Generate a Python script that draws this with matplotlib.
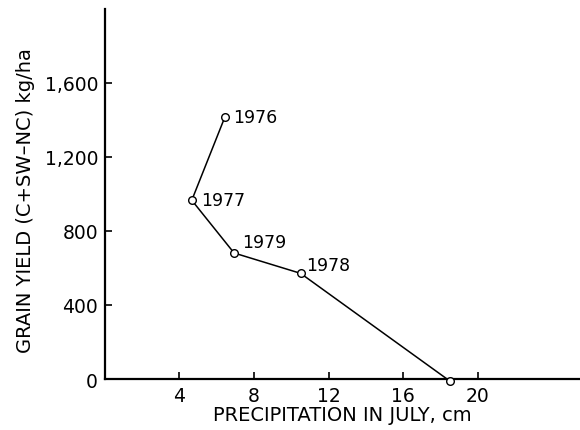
import matplotlib
matplotlib.use("Agg")
import matplotlib.pyplot as plt

# ------------------------- Data ------------------------- #
years = ["1976", "1977", "1979", "1978", "1975"]
precip_july = [6.43, 4.66, 6.93, 10.5, 18.5]
grain_yield = [1414, 966, 681, 571, -10]

x_ticks = [4, 8, 12, 16, 20]
y_ticks = [0, 400, 800, 1200, 1600]
y_tick_labels = ["0", "400", "800", "1,200", "1,600"]

# label offsets in points (dx, dy, ha)
label_offsets = [(6, 0, "left"), (7, 0, "left"), (6, 8, "left"), (4, 6, "left"), (6, 13, "center")]

plt.rcParams['font.family'] = ['DejaVu Sans']

fig = plt.figure(figsize=(5.8, 4.31), dpi=100)
ax = fig.add_axes([0.181, 0.1183, 0.819, 0.8587])

ax.plot(precip_july, grain_yield, color="black", lw=1.1, marker="o", ms=5.5,
        mfc="white", mec="black", mew=1.0, clip_on=False, zorder=3)

for yr, x, y, (dx, dy, ha) in zip(years, precip_july, grain_yield, label_offsets):
    ax.annotate(yr, (x, y), xytext=(dx, dy), textcoords="offset points",
                ha=ha, va="center", fontsize=12.5)

ax.set_xlim(0, 25.5)
ax.set_ylim(0, 2000)
ax.set_xticks(x_ticks)
ax.set_yticks(y_ticks)
ax.set_yticklabels(y_tick_labels)
ax.tick_params(direction="in", length=5, width=1.2, labelsize=13.5, pad=5)

for side in ["top", "right"]:
    ax.spines[side].set_visible(False)
for side in ["left", "bottom"]:
    ax.spines[side].set_linewidth(1.6)

ax.set_xlabel("PRECIPITATION IN JULY, cm", fontsize=14, labelpad=0)
ax.set_ylabel("GRAIN YIELD (C+SW\u2013NC) kg/ha", fontsize=14)
ax.yaxis.set_label_coords(-0.147, 0.484)

fig.savefig("out.png", dpi=100)
